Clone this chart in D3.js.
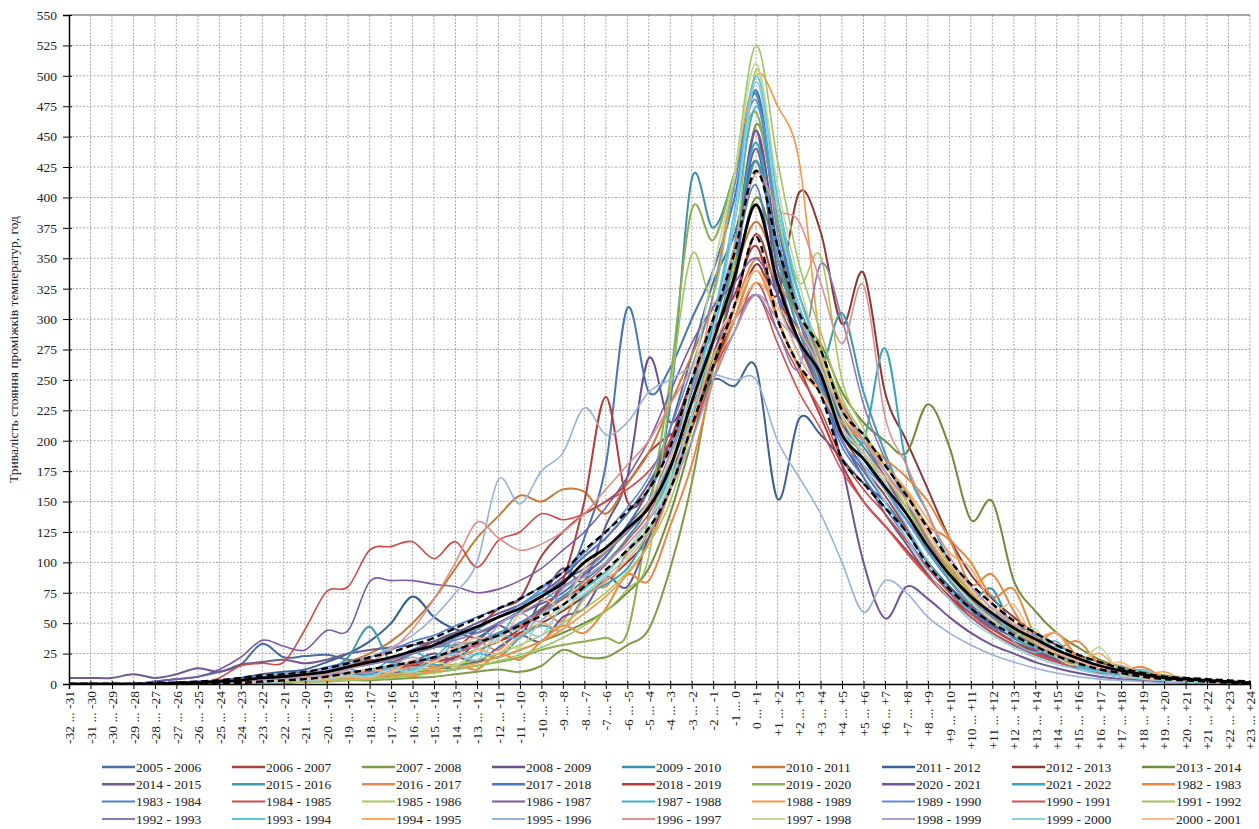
<!DOCTYPE html>
<html>
<head>
<meta charset="utf-8">
<script src="https://cdn.jsdelivr.net/npm/d3@7"></script>
<style>
  body { margin: 0; background: #fff; }
  svg { font-family: "Liberation Serif", "Times New Roman", serif; }
</style>
</head>
<body>
<svg id="chart"></svg>
<script>
var categories = ["-32 ... -31","-31 ... -30","-30 ... -29","-29 ... -28","-28 ... -27","-27 ... -26","-26 ... -25","-25 ... -24","-24 ... -23","-23 ... -22","-22 ... -21","-21 ... -20","-20 ... -19","-19 ... -18","-18 ... -17","-17 ... -16","-16 ... -15","-15 ... -14","-14 ... -13","-13 ... -12","-12 ... -11","-11 ... -10","-10 ... -9","-9 ... -8","-8 ... -7","-7 ... -6","-6 ... -5","-5 ... -4","-4 ... -3","-3 ... -2","-2 ... -1","-1 ... 0","0 ... +1","+1 ... +2","+2 ... +3","+3 ... +4","+4 ... +5","+5 ... +6","+6 ... +7","+7 ... +8","+8 ... +9","+9 ... +10","+10 ... +11","+11 ... +12","+12 ... +13","+13 ... +14","+14 ... +15","+15 ... +16","+16 ... +17","+17 ... +18","+18 ... +19","+19 ... +20","+20 ... +21","+21 ... +22","+22 ... +23","+23 ... +24"];
var yTicks = [0,25,50,75,100,125,150,175,200,225,250,275,300,325,350,375,400,425,450,475,500,525,550];

var seasons = ["2005 - 2006","2006 - 2007","2007 - 2008","2008 - 2009","2009 - 2010","2010 - 2011","2011 - 2012","2012 - 2013","2013 - 2014","2014 - 2015","2015 - 2016","2016 - 2017","2017 - 2018","2018 - 2019","2019 - 2020","2020 - 2021","2021 - 2022","1982 - 1983","1983 - 1984","1984 - 1985","1985 - 1986","1986 - 1987","1987 - 1988","1988 - 1989","1989 - 1990","1990 - 1991","1991 - 1992","1992 - 1993","1993 - 1994","1994 - 1995","1995 - 1996","1996 - 1997","1997 - 1998","1998 - 1999","1999 - 2000","2000 - 2001"];

var v0506 = [0,0,0,0,2,4,6,10,16,33,22,23,24,20,18,20,28,35,42,38,50,58,66,75,90,105,130,160,210,270,330,370,430,350,300,260,215,190,165,140,110,85,65,50,40,32,24,18,13,9,7,5,3,2,1,0];
var v0607 = [0,0,0,0,0,0,1,2,3,5,6,8,12,15,20,18,25,35,30,45,62,70,105,125,140,150,165,190,205,215,260,310,370,320,280,245,205,178,155,128,100,80,64,50,39,30,22,16,12,9,6,4,3,2,1,0];
var v0708 = [0,0,0,0,0,0,0,0,0,1,1,2,2,3,3,4,5,6,8,10,12,10,15,28,22,22,32,45,95,165,260,340,460,380,300,265,210,190,170,150,115,95,75,58,45,35,25,18,12,8,5,3,2,1,1,0];
var v0809 = [0,0,0,0,0,0,1,1,2,3,4,5,6,8,12,10,18,25,20,35,48,40,70,95,85,130,170,268,215,250,300,360,455,360,300,270,215,190,160,135,110,88,70,55,42,32,24,17,12,8,6,4,3,2,1,0];
var v0910 = [0,0,0,0,0,0,0,1,2,3,4,5,7,9,12,15,18,22,28,35,42,50,60,72,85,100,120,150,230,415,375,420,485,380,310,270,220,195,170,140,112,95,70,78,44,38,26,24,13,10,6,4,3,2,1,0];
var v1011 = [0,0,0,0,0,0,0,1,2,3,5,8,12,18,25,35,50,70,95,120,138,155,150,160,158,140,165,190,230,270,310,340,380,340,300,270,225,200,175,150,120,95,75,58,45,35,26,18,12,8,5,3,2,1,1,0];
var v1112 = [0,0,0,0,0,1,2,3,5,8,10,12,18,25,35,50,72,55,45,42,50,60,72,85,95,110,130,150,180,220,250,245,260,152,218,205,185,165,150,125,100,80,62,48,38,28,20,15,10,7,5,3,2,1,1,0];
var v1213 = [0,0,0,0,0,0,0,1,1,2,3,4,6,8,10,12,15,18,22,28,35,42,50,60,72,85,100,120,160,210,260,300,345,320,404,372,296,338,240,200,160,120,90,70,55,42,32,24,18,12,8,5,3,2,1,0];
var v1314 = [0,0,0,0,0,0,0,0,1,1,2,3,4,5,6,8,10,12,15,18,22,28,35,42,50,60,75,95,140,200,260,330,400,350,300,280,240,215,200,190,230,195,135,150,85,60,42,30,20,14,10,7,5,3,2,1];
var v1415 = [5,5,5,8,5,8,13,10,16,18,20,17,20,25,28,30,32,35,42,50,58,65,75,88,105,120,140,165,200,250,300,350,440,340,280,240,200,170,140,115,90,72,55,42,32,24,18,13,9,6,4,3,2,1,1,0];
var v1516 = [0,0,0,0,0,0,1,1,2,3,4,6,10,22,47,18,25,30,32,35,40,50,60,70,80,92,110,135,170,220,280,350,430,350,290,260,305,240,190,150,115,88,68,52,40,30,22,16,11,8,5,3,2,1,1,0];
var v1617 = [0,0,0,0,0,0,0,0,1,2,3,4,5,8,6,12,18,14,24,35,28,46,60,52,85,80,108,128,160,210,270,310,350,330,300,265,220,200,180,158,130,118,82,90,60,36,42,22,13,15,6,4,3,2,1,0];
var v1718 = [0,0,0,0,0,0,0,1,2,3,4,5,7,9,11,14,17,21,26,32,40,50,62,80,120,180,309,240,260,300,340,400,488,380,300,250,200,175,150,125,100,78,60,46,35,26,19,14,10,7,5,3,2,1,1,0];
var v1819 = [0,0,0,0,0,0,0,0,1,2,3,4,5,7,9,11,14,18,22,28,35,45,60,85,150,236,150,160,200,250,290,320,360,300,260,220,180,150,130,110,90,72,58,45,35,27,20,15,11,8,5,3,2,1,0,0];
var v1920 = [0,0,0,0,0,0,0,0,0,1,2,2,3,4,5,6,8,10,12,15,18,22,28,32,35,38,42,140,250,390,365,420,470,380,320,275,230,200,170,145,118,92,72,56,42,32,24,17,12,8,5,3,2,1,1,0];
var v2021 = [0,0,0,0,0,0,0,0,1,2,3,4,5,6,10,8,14,12,22,18,30,40,35,55,62,88,80,120,160,210,270,330,455,320,280,250,180,100,54,80,70,55,42,32,25,18,13,9,6,4,3,2,1,1,0,0];
var v2122 = [0,0,0,0,0,0,0,0,1,1,2,3,4,5,8,6,12,16,12,25,22,38,48,45,72,82,95,125,165,220,290,360,445,350,290,245,210,200,276,180,140,100,75,58,44,33,25,18,12,8,5,3,2,1,1,0];
var v8283 = [0,0,0,0,0,0,0,0,0,1,1,2,3,5,4,8,6,12,16,12,25,20,35,48,42,62,90,85,130,180,250,300,340,300,260,240,215,200,185,170,150,120,100,72,78,40,30,35,16,11,14,5,3,2,1,0];
var v8384 = [0,0,0,0,0,1,2,3,4,6,8,10,14,18,22,28,35,40,48,55,62,70,80,92,105,120,140,160,195,245,295,350,410,320,270,240,195,170,145,120,96,76,58,45,48,40,28,20,14,9,6,4,3,2,1,0];
var v8485 = [0,0,0,0,0,0,0,5,15,17,18,45,76,80,110,113,117,103,117,96,118,125,140,135,140,150,160,175,200,230,260,290,330,290,255,225,185,160,140,118,95,75,58,45,34,25,18,13,9,6,4,3,2,1,1,0];
var v8586 = [0,0,0,0,0,0,0,0,1,2,2,3,4,5,6,8,10,13,16,20,25,32,40,50,62,75,92,115,150,210,280,350,505,400,330,352,250,210,175,145,115,88,68,52,40,30,22,16,11,8,5,3,2,1,1,0];
var v8687 = [0,0,0,0,2,4,6,12,22,36,31,28,44,44,84,85,85,82,80,75,78,85,95,110,125,145,170,200,240,280,310,330,350,320,290,260,230,200,170,140,110,85,65,50,38,28,20,14,10,7,5,3,2,1,1,0];
var v8788 = [0,0,0,0,0,0,0,1,2,3,4,6,8,12,10,20,26,22,38,45,40,62,75,70,95,110,125,145,185,240,300,380,475,390,320,270,220,185,160,135,108,85,66,72,40,30,35,16,11,14,5,3,2,1,1,0];
var v8889 = [0,0,0,0,0,0,0,0,0,1,1,2,3,4,5,6,8,10,13,17,22,28,35,45,58,72,90,115,160,230,320,420,500,475,430,280,230,200,175,150,120,95,75,58,45,34,25,18,12,8,5,3,2,1,1,0];
var v8990 = [0,0,0,0,0,0,1,2,3,4,6,8,10,13,16,20,25,30,38,45,55,65,78,92,108,125,145,170,210,260,320,410,480,370,300,255,200,180,160,135,110,88,70,55,42,40,28,20,14,9,6,4,3,2,1,0];
var v9091 = [0,0,0,0,0,0,0,0,1,2,3,4,6,8,10,13,16,20,25,32,40,48,58,70,82,98,118,140,175,210,250,290,320,280,240,210,175,150,130,108,88,70,55,42,32,24,18,13,9,6,4,3,2,1,1,0];
var v9192 = [0,0,0,0,0,0,0,0,0,1,1,2,2,3,4,5,7,9,12,15,19,24,30,38,48,60,78,105,240,353,320,420,525,430,345,290,235,205,180,155,125,98,76,58,44,33,24,17,12,8,5,3,2,1,1,0];
var v9293 = [0,0,0,0,0,0,1,2,3,5,6,8,10,13,16,20,25,30,36,42,50,58,68,80,92,108,125,148,190,240,280,300,320,290,260,345,300,230,185,150,118,90,70,55,42,32,24,17,12,8,5,3,2,1,1,0];
var v9394 = [0,0,0,0,0,0,0,0,1,2,3,4,5,8,6,14,12,22,28,24,40,38,58,65,78,92,110,135,175,230,300,390,500,400,320,270,220,190,160,130,100,78,60,62,35,26,30,14,10,7,12,3,2,1,1,0];
var v9495 = [0,0,0,0,0,0,0,0,0,1,2,3,4,6,5,10,14,12,20,28,25,40,50,45,70,85,102,125,165,215,270,300,330,310,290,260,225,200,180,160,135,108,95,65,50,38,42,20,25,10,7,10,3,2,1,0];
var v9596 = [0,0,0,0,0,0,1,2,3,4,6,8,12,16,22,30,40,55,75,100,168,148,175,190,227,205,215,240,250,260,255,250,250,200,170,140,100,59,85,75,55,42,32,24,18,13,9,6,4,3,2,1,1,0,0,0];
var v9697 = [0,0,0,0,0,0,0,1,2,3,4,6,8,12,18,28,45,70,100,133,120,110,115,125,140,160,180,200,230,260,300,360,420,390,380,330,280,328,220,180,140,105,80,62,48,36,27,20,14,10,7,5,3,2,1,0];
var v9798 = [0,0,0,0,0,0,0,0,1,2,3,4,5,7,6,12,10,18,15,28,35,30,52,62,75,90,110,135,170,250,340,420,510,410,330,270,220,190,165,140,112,88,68,52,40,45,22,16,30,8,5,3,2,1,1,0];
var v9899 = [0,0,0,0,0,0,1,1,2,3,4,5,7,10,9,16,22,18,34,30,48,58,52,78,88,100,115,135,160,200,250,290,320,300,280,255,225,200,175,150,125,100,80,62,48,36,26,19,13,9,6,4,3,2,1,0];
var v9900 = [0,0,0,0,0,0,0,0,1,1,2,3,4,7,6,12,10,18,25,20,38,45,40,65,74,88,105,128,165,220,290,380,495,390,310,260,210,180,150,120,92,70,52,40,30,22,16,12,8,6,4,3,2,1,1,0];
var v0001 = [0,0,0,0,0,0,0,0,1,2,3,4,5,8,12,10,20,18,30,38,35,58,70,65,95,110,128,150,185,230,280,310,340,310,270,240,210,190,170,150,125,100,78,60,65,35,26,19,13,18,6,4,3,2,1,0];

// average and the two dashed bounds
var meanValues = [0,0,0,0,0,1,1,2,3,5,6,8,10,14,18,22,27,32,40,47,55,62,72,83,100,112,128,145,178,232,282,335,394,330,282,255,205,185,162,140,113,90,72,58,46,37,28,21,15,11,8,5,4,3,2,1];
var upperValues = [0,0,0,0,1,1,2,3,5,7,8,10,13,17,22,26,32,38,46,54,62,70,80,92,110,125,142,160,195,250,300,355,422,360,305,275,225,205,180,155,128,102,82,66,52,42,32,24,18,13,9,6,5,4,3,2];
var lowerValues = [0,0,0,0,0,0,0,1,1,2,3,4,6,9,12,15,18,22,28,34,40,48,56,65,80,94,110,128,160,212,262,312,368,300,262,238,185,165,145,125,98,78,62,50,40,31,23,17,12,9,6,4,3,2,1,1];

var colors = ["#4a6ca0","#a8433f","#7e9b48","#6a5189","#3b91a8","#c77a3a","#3d5f94","#8b3836","#6e8c3c",
              "#6d5c8c","#3f9cac","#dc8c4e","#4976b6","#b23b3b","#8db053","#6f5596","#39a4bf","#e68a43",
              "#4e80cc","#cd4a47","#a7c85b","#7c5ba6","#3cb2d0","#f79646","#628bd3","#d45350","#9dc663",
              "#8c78b2","#5ec2de","#f9a564","#99b2da","#df8f8d","#c0d89e","#ac9dcb","#8dcfe1","#f9ba8c"];

var allValues = [v0506,v0607,v0708,v0809,v0910,v1011,v1112,v1213,v1314,v1415,v1516,v1617,v1718,v1819,v1920,v2021,v2122,v8283,
                 v8384,v8485,v8586,v8687,v8788,v8889,v8990,v9091,v9192,v9293,v9394,v9495,v9596,v9697,v9798,v9899,v9900,v0001];

var series = seasons.map(function(name, i) {
    if (allValues[i].length !== categories.length) throw new Error(name + " has " + allValues[i].length);
    return { name: name, color: colors[i], values: allValues[i], width: i < 18 ? 2 : 1.6 };
});

var svgWidth = 1259;
var svgHeight = 829;
var plotLeft = 69, plotRight = 1250, plotTop = 15, plotBottom = 684;

var svg = d3.select("#chart")
    .attr("width", svgWidth)
    .attr("height", svgHeight);

var x = d3.scalePoint().domain(categories).range([plotLeft, plotRight]);
var y = d3.scaleLinear().domain([0, 550]).range([plotBottom, plotTop]);

// grid
svg.append("g").selectAll("line")
    .data(categories.slice(1))
    .enter().append("line")
    .attr("x1", function(d) { return x(d); })
    .attr("x2", function(d) { return x(d); })
    .attr("y1", plotTop).attr("y2", plotBottom)
    .attr("stroke", "#a9a9a9").attr("stroke-width", 1).attr("stroke-dasharray", "2,1.5");

svg.append("g").selectAll("line")
    .data(yTicks.slice(1, -1))
    .enter().append("line")
    .attr("x1", plotLeft).attr("x2", plotRight)
    .attr("y1", function(d) { return y(d); })
    .attr("y2", function(d) { return y(d); })
    .attr("stroke", "#a9a9a9").attr("stroke-width", 1).attr("stroke-dasharray", "2,1.5");

svg.append("line")
    .attr("x1", plotLeft).attr("x2", plotRight)
    .attr("y1", y(550)).attr("y2", y(550))
    .attr("stroke", "#555").attr("stroke-width", 1.2);

svg.append("clipPath").attr("id", "plot")
    .append("rect").attr("x", plotLeft).attr("y", plotTop)
    .attr("width", plotRight - plotLeft).attr("height", plotBottom - plotTop);

var line = d3.line()
    .x(function(d, i) { return x(categories[i]); })
    .y(function(d) { return y(d); })
    .curve(d3.curveCardinal.tension(0));

var lines = svg.append("g").attr("clip-path", "url(#plot)");

lines.selectAll("path.season")
    .data(series)
    .enter().append("path")
    .attr("class", "season")
    .attr("d", function(d) { return line(d.values); })
    .attr("fill", "none")
    .attr("stroke", function(d) { return d.color; })
    .attr("stroke-width", function(d) { return d.width; });

[upperValues, lowerValues].forEach(function(vals) {
    lines.append("path")
        .attr("d", line(vals))
        .attr("fill", "none")
        .attr("stroke", "#000")
        .attr("stroke-width", 2.4)
        .attr("stroke-dasharray", "7,4");
});

lines.append("path")
    .attr("d", line(meanValues))
    .attr("fill", "none")
    .attr("stroke", "#000")
    .attr("stroke-width", 2.8);

// axes
var yAxis = svg.append("g")
    .attr("transform", "translate(" + plotLeft + ",0)")
    .call(d3.axisLeft(y).tickValues(yTicks).tickSize(6).tickPadding(6));
yAxis.select(".domain").attr("stroke", "#000").attr("stroke-width", 1.5);
yAxis.selectAll(".tick line").attr("stroke", "#000").attr("x2", -6).attr("x1", 3);
yAxis.selectAll("text").attr("font-size", 13.5).attr("fill", "#222")
    .style("font-family", "'Liberation Serif', 'Times New Roman', serif");

var xAxis = svg.append("g")
    .attr("transform", "translate(0," + plotBottom + ")")
    .call(d3.axisBottom(x).tickSize(5).tickPadding(6));
xAxis.select(".domain").attr("stroke", "#000").attr("stroke-width", 1.5);
xAxis.selectAll(".tick line").attr("stroke", "#000").attr("y1", -3).attr("y2", 5);
xAxis.selectAll("text")
    .attr("font-size", 13.5).attr("fill", "#222")
    .style("font-family", "'Liberation Serif', 'Times New Roman', serif")
    .attr("text-anchor", "end")
    .attr("transform", "rotate(-90)")
    .attr("x", -7).attr("y", 0).attr("dy", "0.35em");

svg.append("text")
    .attr("transform", "translate(18," + ((plotTop + plotBottom) / 2) + ") rotate(-90)")
    .attr("text-anchor", "middle")
    .attr("font-size", 13.5)
    .attr("fill", "#222")
    .text("Тривалість стояння проміжків температур, год");

// legend, 9 columns x 4 rows
var legend = svg.append("g").selectAll("g")
    .data(series)
    .enter().append("g")
    .attr("transform", function(d, i) {
        return "translate(" + (102 + (i % 9) * 130) + "," + (767 + Math.floor(i / 9) * 17.3) + ")";
    });

legend.append("line")
    .attr("x1", 0).attr("x2", 33)
    .attr("stroke", function(d) { return d.color; })
    .attr("stroke-width", function(d) { return d.width + 0.4; });

legend.append("text")
    .attr("x", 34).attr("dy", "0.35em")
    .attr("font-size", 13.5)
    .attr("fill", "#222")
    .text(function(d) { return d.name; });
</script>
</body>
</html>
